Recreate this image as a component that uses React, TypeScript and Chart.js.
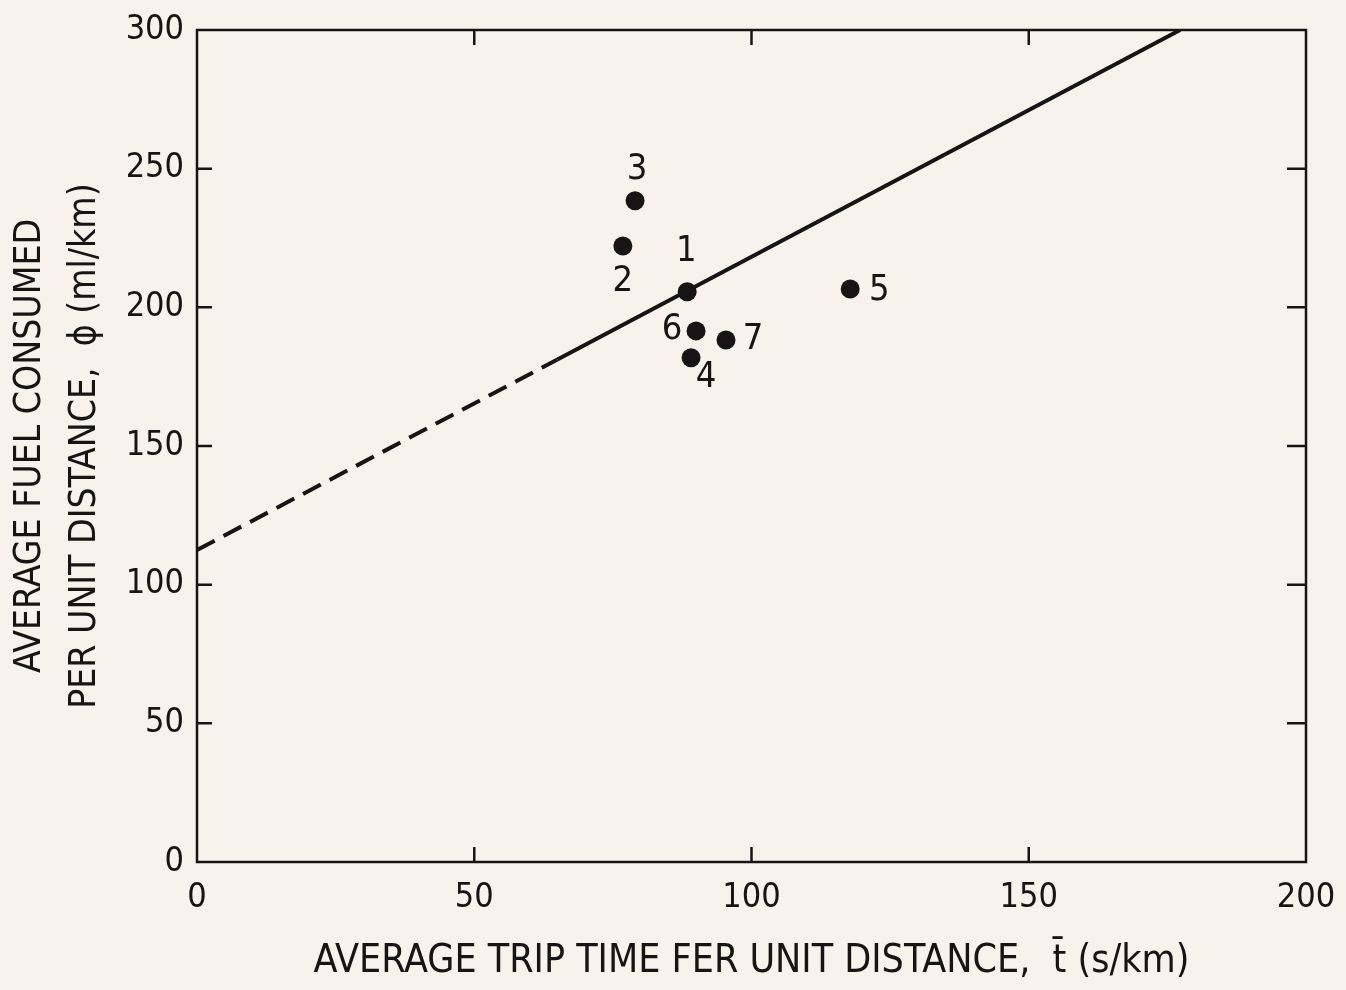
import React, { useEffect, useRef } from "react";
import { Chart, registerables } from "chart.js";

Chart.register(...registerables);

// ---- data ----
const pointIds = ["1", "2", "3", "4", "5", "6", "7"];
const tripTime = [88.4, 76.8, 79.0, 89.1, 117.8, 90.0, 95.4];
const fuelUsed = [205.6, 222.1, 238.4, 181.8, 206.6, 191.5, 188.2];

const fitDashedX = [0, 65];
const fitDashedY = [112.5, 181.2];
const fitSolidX = [65, 177.3];
const fitSolidY = [181.2, 300];

const xTicks = [0, 50, 100, 150, 200];
const yTicks = [0, 50, 100, 150, 200, 250, 300];

const xTitle = "AVERAGE TRIP TIME FER UNIT DISTANCE,  t\u0304 (s/km)";
const yTitle = ["AVERAGE FUEL CONSUMED", "PER UNIT DISTANCE,  \u03D5 (ml/km)"];

// label placement (style): pixel offsets of each point's number
const labelOffsets: [number, number][] = [
  [-1, -40],
  [0, 36],
  [2, -31],
  [15, 20],
  [29, 2],
  [-24, -1],
  [27, 0],
];

const FONT = "'Liberation Sans Narrow', 'DejaVu Sans Condensed', 'Arial Narrow', sans-serif";
const INK = "#161414";
const BG = "#f7f2eb";

const zeroPad = (s: any) => {
  s.paddingLeft = 0;
  s.paddingRight = 0;
  s.paddingTop = 0;
  s.paddingBottom = 0;
};

const framePlugin = {
  id: "frameAndTicks",
  afterDatasetsDraw(chart: any) {
    const { ctx, chartArea } = chart;
    const { left, right, top, bottom } = chartArea;
    const xs = chart.scales.x;
    const ys = chart.scales.y;
    ctx.save();
    ctx.strokeStyle = INK;
    ctx.lineWidth = 2.5;
    ctx.strokeRect(left, top, right - left, bottom - top);
    ctx.beginPath();
    xTicks.slice(1, -1).forEach((v) => {
      const px = xs.getPixelForValue(v);
      ctx.moveTo(px, bottom);
      ctx.lineTo(px, bottom - 15);
      ctx.moveTo(px, top);
      ctx.lineTo(px, top + 15);
    });
    yTicks.slice(1, -1).forEach((v) => {
      const py = ys.getPixelForValue(v);
      ctx.moveTo(left, py);
      ctx.lineTo(left + 15, py);
      ctx.moveTo(right, py);
      ctx.lineTo(right - 19, py);
    });
    ctx.stroke();

    // point numbers
    ctx.fillStyle = INK;
    ctx.font = `36px ${FONT}`;
    ctx.textAlign = "center";
    ctx.textBaseline = "middle";
    pointIds.forEach((id, i) => {
      const px = xs.getPixelForValue(tripTime[i]);
      const py = ys.getPixelForValue(fuelUsed[i]);
      const [dx, dy] = labelOffsets[i];
      ctx.fillText(id, px + dx, py + dy);
    });
    ctx.restore();
  },
};

const bgPlugin = {
  id: "bg",
  beforeDraw(chart: any) {
    const { ctx, width, height } = chart;
    ctx.save();
    ctx.fillStyle = BG;
    ctx.fillRect(0, 0, width, height);
    ctx.restore();
  },
};

export default function App() {
  const ref = useRef<HTMLCanvasElement | null>(null);

  useEffect(() => {
    if (!ref.current) return;
    const chart = new Chart(ref.current, {
      type: "scatter",
      data: {
        datasets: [
          {
            label: "fit (extrapolated)",
            data: fitDashedX.map((x, i) => ({ x, y: fitDashedY[i] })),
            showLine: true,
            borderColor: INK,
            borderWidth: 4,
            borderDash: [20, 10],
            pointRadius: 0,
          },
          {
            label: "fit",
            data: fitSolidX.map((x, i) => ({ x, y: fitSolidY[i] })),
            showLine: true,
            borderColor: INK,
            borderWidth: 4,
            pointRadius: 0,
          },
          {
            label: "runs",
            data: tripTime.map((x, i) => ({ x, y: fuelUsed[i] })),
            backgroundColor: INK,
            borderColor: INK,
            pointRadius: 9.5,
            pointHoverRadius: 9.5,
            borderWidth: 0,
          },
        ],
      },
      options: {
        animation: false,
        responsive: false,
        maintainAspectRatio: false,
        events: [],
        layout: { padding: { left: 0, top: 30, right: 40, bottom: 0 } },
        plugins: {
          legend: { display: false },
          tooltip: { enabled: false },
        },
        scales: {
          x: {
            type: "linear",
            min: 0,
            max: 200,
            afterBuildTicks: (s: any) => {
              s.ticks = xTicks.map((v) => ({ value: v }));
            },
            afterFit: (s: any) => {
              s.height = 128;
              zeroPad(s);
            },
            grid: { display: false, drawTicks: false, tickLength: 0 },
            border: { display: false },
            ticks: {
              color: INK,
              padding: 16,
              font: { family: FONT, size: 34 },
              maxRotation: 0,
            },
            title: {
              display: true,
              text: xTitle,
              color: INK,
              font: { family: FONT, size: 39, lineHeight: 1.3 },
              padding: { top: 0, bottom: 3 },
            },
          },
          y: {
            type: "linear",
            min: 0,
            max: 300,
            afterBuildTicks: (s: any) => {
              s.ticks = yTicks.map((v) => ({ value: v }));
            },
            afterFit: (s: any) => {
              s.width = 197;
              zeroPad(s);
            },
            grid: { display: false, drawTicks: false, tickLength: 0 },
            border: { display: false },
            ticks: {
              color: INK,
              padding: 13,
              font: { family: FONT, size: 34 },
            },
            title: {
              display: true,
              text: yTitle,
              color: INK,
              font: { family: FONT, size: 37, lineHeight: 1.486 },
              padding: { top: 2.5, bottom: 0 },
            },
          },
        },
      },
      plugins: [bgPlugin, framePlugin],
    });
    return () => chart.destroy();
  }, []);

  return (
    <div style={{ position: "fixed", left: 0, top: 0, width: 1346, height: 990, background: BG }}>
      <canvas ref={ref} width={1346} height={990} style={{ display: "block" }} />
    </div>
  );
}
